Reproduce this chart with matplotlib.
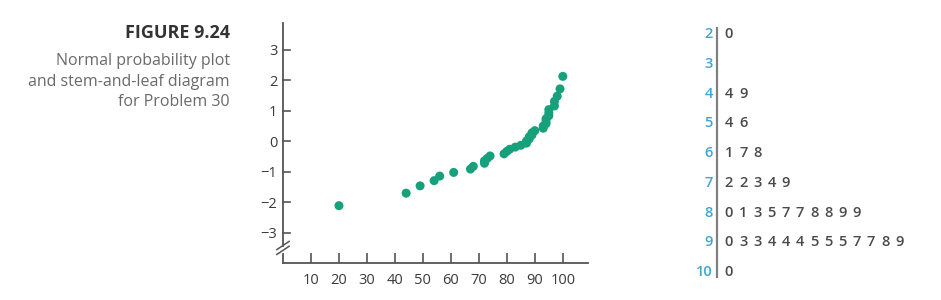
import matplotlib.pyplot as plt

# data
stems = [2, 3, 4, 5, 6, 7, 8, 9, 10]
leaves = ['0', '', '49', '46', '178', '22349', '0135778899', '0334445557789', '0']

values = [20, 44, 49, 54, 56, 61, 67, 68, 72, 72, 73, 74, 79,
          80, 81, 83, 85, 87, 87, 88, 88, 89, 89,
          90, 93, 93, 94, 94, 94, 95, 95, 95, 97, 97, 98, 99, 100]
# normal scores
scores = [-2.12, -1.71, -1.47, -1.30, -1.15, -1.03, -0.92, -0.83, -0.73, -0.65,
          -0.57, -0.49, -0.42, -0.34, -0.27, -0.20, -0.14, -0.07, 0.00,
          0.07, 0.14, 0.20, 0.27, 0.34, 0.42, 0.49, 0.57, 0.65, 0.73,
          0.83, 0.92, 1.03, 1.15, 1.30, 1.47, 1.71, 2.12]

x_ticks = [10, 20, 30, 40, 50, 60, 70, 80, 90, 100]
y_ticks = [-3, -2, -1, 0, 1, 2, 3]

plt.rcParams['font.family'] = ['Open Sans', 'DejaVu Sans']
axis_col = '#555555'
teal = '#17a07c'
blue = '#3ba6d6'

fig = plt.figure(figsize=(9.41, 3.0), dpi=100)

# caption
fig.text(230 / 941, 1 - 33.5 / 300, 'FIGURE 9.24', ha='right', va='center',
         fontsize=13, fontweight='bold', color='#333333')
for i, line in enumerate(['Normal probability plot', 'and stem-and-leaf diagram', 'for Problem 30']):
    fig.text(230 / 941, 1 - (61 + 20.5 * i) / 300, line, ha='right', va='center',
             fontsize=11.5, color='#6a6a6a')

# normal probability plot
ax = fig.add_axes([283 / 941, 37 / 300, 305 / 941, 240 / 300])
ax.set_xlim(0, 109)
ax.set_ylim(-4.0, 3.87)
ax.scatter(values, scores, s=42, color=teal, edgecolors='none', zorder=3)
for s in ['top', 'right', 'left']:
    ax.spines[s].set_visible(False)
ax.spines['bottom'].set_color(axis_col)
ax.spines['bottom'].set_linewidth(1.3)
# y axis with a break near the bottom
ax.plot([0, 0], [3.87, -3.45], color=axis_col, lw=1.3, clip_on=False)
ax.plot([0, 0], [-3.7, -4.0], color=axis_col, lw=1.3, clip_on=False)
for dy in [0, 0.16]:
    ax.plot([-2.2, 2.2], [-3.72 + dy, -3.45 + dy], color=axis_col, lw=1.1, clip_on=False)
ax.set_xticks(x_ticks)
ax.set_yticks(y_ticks)
ax.set_yticklabels([str(t).replace('-', '\u2212') for t in y_ticks])
ax.tick_params(axis='x', direction='in', length=7, width=1.2, color=axis_col,
               labelsize=10.5, labelcolor='#3a3a3a', pad=7)
ax.tick_params(axis='y', direction='in', length=5, width=1.2, color=axis_col,
               labelsize=10.5, labelcolor='#3a3a3a', pad=4, left=False, labelleft=True)
for t in y_ticks:
    ax.plot([0, 2.5], [t, t], color=axis_col, lw=1.2, clip_on=False)

# stem-and-leaf diagram
ax2 = fig.add_axes([680 / 941, 0, 260 / 941, 1])
ax2.set_xlim(-3.45, 14.86)
ax2.set_ylim(8.94, -1.143)
ax2.axis('off')
ax2.plot([-0.85, -0.85], [-0.2, 8.17], color='#808080', lw=1.6)
for r, (st, lf) in enumerate(zip(stems, leaves)):
    ax2.text(-1.15, r, str(st), ha='right', va='center', fontsize=10.5, color=blue,
             fontweight='semibold')
    for j, d in enumerate(lf):
        ax2.text(j, r, d, ha='center', va='center', fontsize=10.5, color='#4a4a4a',
                 fontweight='semibold')

fig.savefig('out.png', dpi=100)
